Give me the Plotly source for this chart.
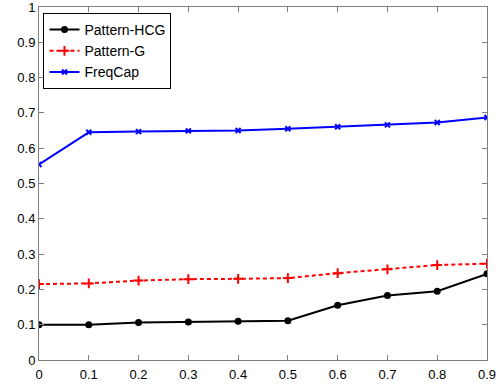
import plotly.graph_objects as go

x_vals = [0, 0.1, 0.2, 0.3, 0.4, 0.5, 0.6, 0.7, 0.8, 0.9]
hcg = [0.100, 0.100, 0.106, 0.108, 0.110, 0.111, 0.155, 0.183, 0.195, 0.244]
pat_g = [0.215, 0.217, 0.225, 0.229, 0.230, 0.232, 0.246, 0.257, 0.269, 0.273]
freqcap = [0.554, 0.645, 0.647, 0.649, 0.650, 0.655, 0.661, 0.666, 0.673, 0.687]
x_ticks = [0, 0.1, 0.2, 0.3, 0.4, 0.5, 0.6, 0.7, 0.8, 0.9]
x_tick_text = ["0", "0.1", "0.2", "0.3", "0.4", "0.5", "0.6", "0.7", "0.8", "0.9"]
y_ticks = [0, 0.1, 0.2, 0.3, 0.4, 0.5, 0.6, 0.7, 0.8, 0.9, 1]
y_tick_text = ["0", "0.1", "0.2", "0.3", "0.4", "0.5", "0.6", "0.7", "0.8", "0.9", "1"]

fig = go.Figure()
fig.add_trace(go.Scatter(x=x_vals, y=hcg, name="Pattern-HCG", mode="lines+markers",
                         line=dict(color="black", width=2),
                         marker=dict(symbol="circle", size=7, color="black")))
fig.add_trace(go.Scatter(x=x_vals, y=pat_g, name="Pattern-G", mode="lines+markers",
                         line=dict(color="red", width=2, dash="4px,3px"),
                         marker=dict(symbol="cross-thin", size=7, line=dict(color="red", width=2))))
fig.add_trace(go.Scatter(x=x_vals, y=freqcap, name="FreqCap", mode="lines+markers",
                         line=dict(color="blue", width=2),
                         marker=dict(symbol="x-thin", size=5, line=dict(color="blue", width=2))))

axis_common = dict(showgrid=False, zeroline=False, showline=True, linecolor="#808080", linewidth=1,
                   mirror="ticks", ticks="inside", ticklen=5, tickcolor="#808080", automargin=False,
                   ticklabeloverflow="allow",
                   tickfont=dict(family="Arial, Liberation Sans", size=13, color="black"))
fig.update_xaxes(range=[0, 0.9], tickvals=x_ticks, ticktext=x_tick_text, ticklabelstandoff=2, **axis_common)
fig.update_yaxes(range=[0, 1], tickvals=y_ticks, ticktext=y_tick_text, **axis_common)

fig.update_layout(
    width=502, height=385,
    margin=dict(l=39, r=15, t=7, b=25, autoexpand=False),
    plot_bgcolor="white", paper_bgcolor="white",
    font=dict(family="Arial, Liberation Sans", size=14, color="black"),
    legend=dict(x=0.01, y=0.983, xanchor="left", yanchor="top",
                bordercolor="black", borderwidth=1, bgcolor="white",
                font=dict(size=14), tracegroupgap=0, itemwidth=30),
    showlegend=True,
)

fig.write_html("out.html", config={"displayModeBar": False},
               post_script="document.body.style.margin='0';document.body.style.overflow='hidden';")
